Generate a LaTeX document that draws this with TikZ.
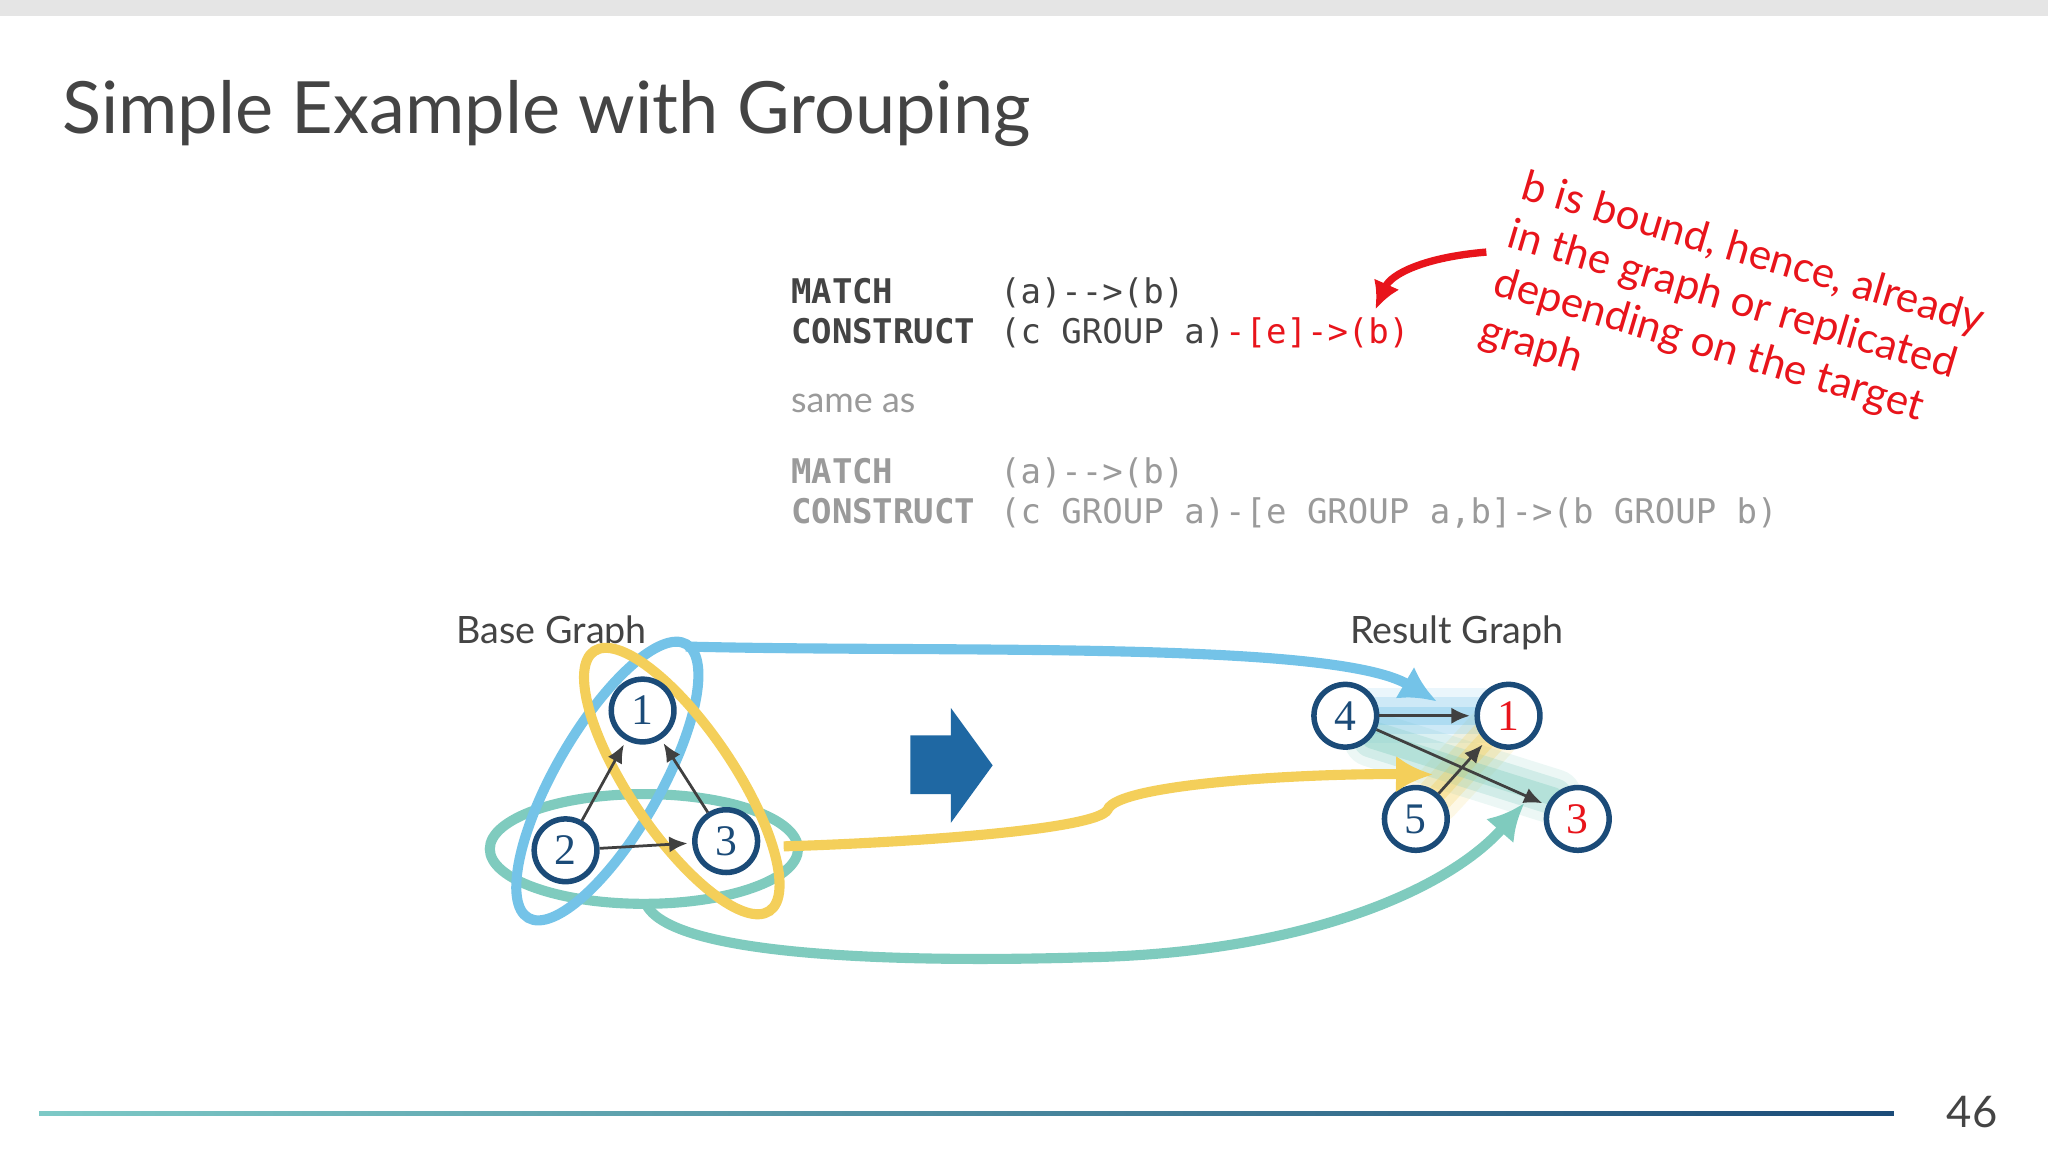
\documentclass[tikz,border=0pt]{standalone}
\usepackage{fontspec}
\setmainfont{Lato}
\newfontfamily\codefont{DejaVu Sans Mono}
\newfontfamily\numfont{Liberation Serif}
\usetikzlibrary{arrows.meta}
\definecolor{nodeblue}{HTML}{1B4B78}
\definecolor{skyb}{HTML}{74C3E8}
\definecolor{yel}{HTML}{F4CF5A}
\definecolor{teal}{HTML}{7FCBBE}
\definecolor{txt}{HTML}{444444}
\definecolor{codeg}{HTML}{9A9A9A}
\definecolor{red1}{HTML}{E8141B}
\definecolor{arrblue}{HTML}{1F68A3}
\begin{document}
\begin{tikzpicture}[x=0.01cm,y=-0.01cm,
  gnode/.style={circle,draw=nodeblue,line width=1.2pt,fill=white,minimum size=0.48cm,inner sep=0pt,text=nodeblue,font=\fontsize{9.5}{10}\selectfont\numfont},
  edge/.style={-{Latex[length=4pt,width=3.5pt]},draw=black!75,line width=0.6pt,shorten >=1pt},
  code/.style={anchor=base west,text=txt,font=\codefont\fontsize{7.4}{8}\selectfont,inner sep=0pt},
  grp/.style={line width=2.2pt}]
\useasboundingbox (0,0) rectangle (1568,882);
\fill[black!10] (0,0) rectangle (1568,12);
\node[anchor=base west,text=txt,font=\fontsize{15.7}{18}\selectfont,inner sep=0pt] (title) at (47,102) {Simple Example with Grouping};
% code
\node[code] (m1) at (605,232) {\bfseries MATCH};
\node[code] (m1b) at (765,232) {(a)-->(b)};
\node[code] (c1) at (605,263) {\bfseries CONSTRUCT};
\node[code] (c1b) at (765,263) {(c GROUP a)\textcolor{red1}{-[e]->(b)}};
\node[anchor=base west,text=codeg,font=\fontsize{7.8}{8}\selectfont,inner sep=0pt] (same) at (605,316) {same as};
\node[code,text=codeg] (m2) at (605,370) {\bfseries MATCH};
\node[code,text=codeg] (m2b) at (765,370) {(a)-->(b)};
\node[code,text=codeg] (c2) at (605,401) {\bfseries CONSTRUCT};
\node[code,text=codeg] (c2b) at (765,401) {(c GROUP a)-[e GROUP a,b]->(b GROUP b)};
% annotation
\node[rotate=-16.5,anchor=north west,text=red1,align=left,font=\fontsize{9.2}{10.9}\selectfont,inner sep=0pt] (note) at (1170,128) {b is bound, hence, already\\in the graph or replicated\\depending on the target\\graph};
\coordinate (ns) at (1138,193);
\draw[red1,line width=1.6pt,-{Latex[length=6pt,width=6pt]}] (ns) .. controls (1090,197) and (1065,210) .. (1053,237);
% labels
\node[anchor=base west,text=txt,font=\fontsize{8.2}{10}\selectfont,inner sep=0pt] (bl) at (349,493) {Base Graph};
\node[anchor=base west,text=txt,font=\fontsize{8.2}{10}\selectfont,inner sep=0pt] (rl) at (1033,493) {Result Graph};
% group ellipses
\draw[teal,grp] (493,650) ellipse [x radius=118,y radius=42];
\draw[skyb,grp] (465,598) ellipse [x radius=121,y radius=40,rotate=60];
\draw[yel,grp] (522,598) ellipse [x radius=120,y radius=40,rotate=-56];
% glows result
\foreach \w/\o in {12pt/0.15,8pt/0.25,4pt/0.35}{
\draw[skyb,line width=\w,opacity=\o,line cap=round] (1045,548) -- (1135,548);
\draw[yel,line width=\w,opacity=\o,line cap=round] (1098,610) -- (1142,562);
\draw[teal,line width=\w,opacity=\o,line cap=round] (1050,566) -- (1190,610);}
% base nodes
\node[gnode] (b1) at (492,544) {1};
\node[gnode] (b2) at (433,651) {2};
\node[gnode] (b3) at (556,644) {3};
\draw[edge] (b2) -- (b1);
\draw[edge] (b3) -- (b1);
\draw[edge] (b2) -- (b3);
% result nodes
\node[gnode] (r4) at (1030,548) {4};
\node[gnode,text=red1] (r1) at (1155,548) {1};
\node[gnode] (r5) at (1084,627) {5};
\node[gnode,text=red1] (r3) at (1208,627) {3};
\draw[edge] (r4) -- (r1);
\draw[edge] (r4) -- (r3);
\draw[edge] (r5) -- (r1);
% mapping curves
\coordinate (bs) at (525,495);
\coordinate (be) at (1100,537);
\draw[skyb,line width=2.2pt,-{Latex[length=8pt,width=8pt]}] (bs) .. controls (720,500) and (1020,490) .. (be);
\coordinate (ys) at (600,648);
\coordinate (ym) at (848,620);
\coordinate (ye) at (1097,593);
\draw[yel,line width=2.2pt,-{Latex[length=8pt,width=8pt]}] (ys) .. controls (700,645) and (840,635) .. (ym) .. controls (855,600) and (1000,592) .. (ye);
\coordinate (ts) at (495,693);
\coordinate (te) at (1167,615);
\draw[teal,line width=2.2pt,-{Latex[length=8pt,width=8pt]}] (ts) .. controls (520,740) and (760,735) .. (830,733) .. controls (1000,730) and (1110,680) .. (te);
% block arrow
\fill[arrblue] (697,563) -- (728,563) -- (728,542) -- (760,586) -- (728,630) -- (728,608) -- (697,608) -- cycle;
% footer
\shade[left color=teal!80!skyb,right color=nodeblue] (30,851) rectangle (1450,854);
\node[anchor=base east,text=txt,font=\fontsize{9.5}{10}\selectfont,inner sep=0pt] (pg) at (1530,863) {46};
\end{tikzpicture}
\end{document}
